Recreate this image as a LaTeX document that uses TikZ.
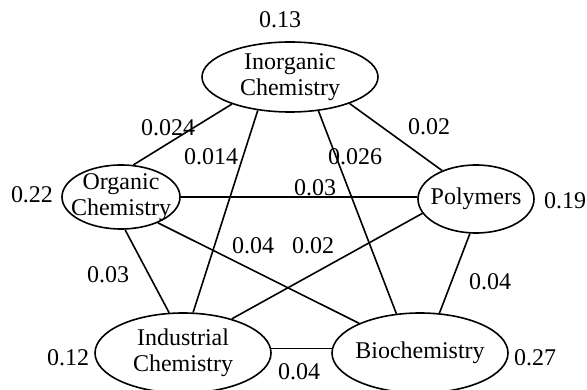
\documentclass[tikz,border=0pt]{standalone}
\usepackage{fontspec}
\setmainfont{Liberation Serif}
\usetikzlibrary{shapes.geometric}

\begin{document}
\begin{tikzpicture}[x=1pt, y=-1pt, line width=1.6pt, every node/.style={font=\fontsize{24}{26}\selectfont}, area/.style={ellipse, draw, inner xsep=-14pt, inner ysep=-8pt, align=center}, weight/.style={inner sep=0pt}]
  \useasboundingbox (0,0) rectangle (587,390);
  \node[area, minimum width=176pt, minimum height=70pt](inorg) at (290,77){Inorganic\\Chemistry};
  \node[area, minimum width=118pt, minimum height=64pt](org) at (121,197){Organic\\Chemistry};
  \node[area, minimum width=116pt, minimum height=68pt](poly) at (476,199){Polymers};
  \node[area, minimum width=176pt, minimum height=80pt](bio) at (420,353){Biochemistry};
  \node[area, minimum width=176pt, minimum height=80pt](indus) at (183,353){Industrial\\Chemistry};
  % node weights
  \node[weight](w-inorg) at (280,20){0.13};
  \node[weight](w-org) at (32,195){0.22};
  \node[weight](w-poly) at (565,201){0.19};
  \node[weight](w-bio) at (535,358){0.27};
  \node[weight](w-indus) at (68,358){0.12};
  % links
  \draw (inorg.205) -- (org.69);
  \draw (inorg.226) -- (indus.76);
  \draw (inorg.310) -- (bio.121);
  \draw (inorg.336) -- (poly.140);
  \draw (org.0) -- (poly.178);
  \draw (org.325) -- (bio.154);
  \draw (org.277) -- (indus.109);
  \draw (poly.195) -- (indus.35);
  \draw (poly.260) -- (bio.64);
  \draw (indus.3) -- (bio.177);
  \node[weight](l-inorg-org) at (168,128){0.024};
  \node[weight](l-inorg-indus) at (211,157){0.014};
  \node[weight](l-inorg-bio) at (355,157){0.026};
  \node[weight](l-inorg-poly) at (429,127){0.02};
  \node[weight](l-org-poly) at (315,188){0.03};
  \node[weight](l-org-bio) at (253,246){0.04};
  \node[weight](l-poly-indus) at (313,246){0.02};
  \node[weight](l-org-indus) at (108,275){0.03};
  \node[weight](l-poly-bio) at (490,282){0.04};
  \node[weight](l-indus-bio) at (299,372){0.04};
\end{tikzpicture}
\end{document}
